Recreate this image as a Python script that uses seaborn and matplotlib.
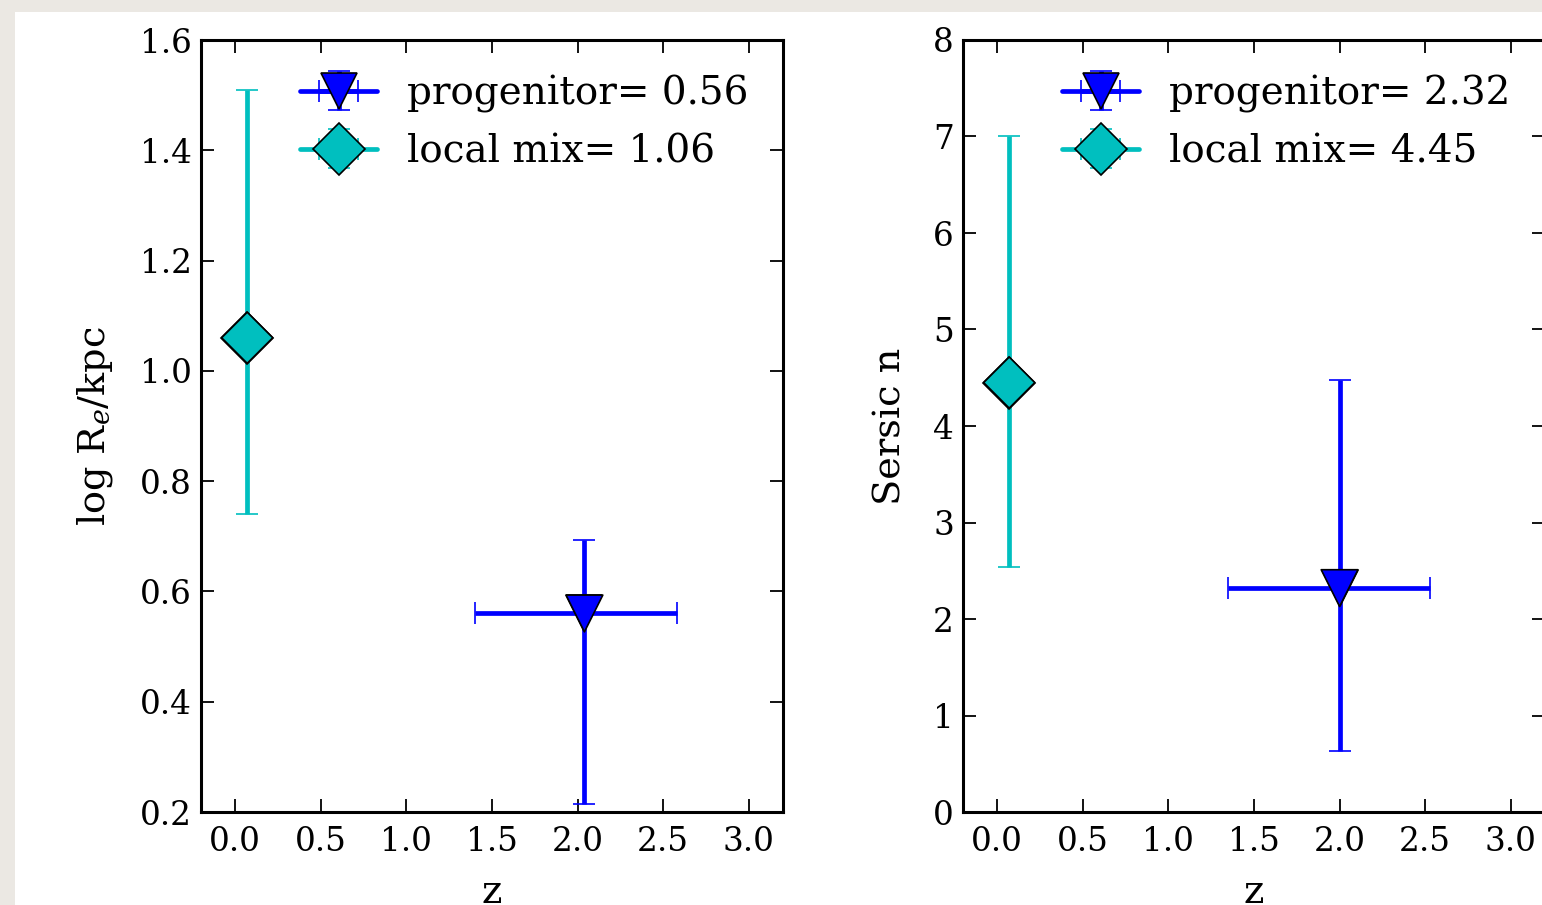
import numpy as np
import pandas as pd
import matplotlib
matplotlib.use("Agg")
import matplotlib.pyplot as plt
import seaborn as sns
from matplotlib.patches import Rectangle

# ---------------- data ----------------
series = ["progenitor", "local mix"]
z_vals = [2.04, 0.07]
z_err_lo = [0.64, 0.0]
z_err_hi = [0.54, 0.0]

re_vals = [0.56, 1.06]
re_err_lo = [0.346, 0.32]
re_err_hi = [0.134, 0.45]

n_vals = [2.32, 4.45]
n_err_lo = [1.69, 1.91]
n_err_hi = [2.16, 2.55]

z_prog_n = [2.00, 0.07]
z_err_lo_n = [0.65, 0.0]
z_err_hi_n = [0.53, 0.0]

re_ticklabels = ["0.2", "0.4", "0.6", "0.8", "1.0", "1.2", "1.4", "1.6"]
n_ticklabels = ["0", "1", "2", "3", "4", "5", "6", "7", "8"]
z_ticklabels = ["0.0", "0.5", "1.0", "1.5", "2.0", "2.5", "3.0"]

colors = ["#0000ff", "#00bfbf"]
markers = ["v", "D"]
msizes = [26.5, 26.0]

# ---------------- style ----------------
sns.set_style("ticks")
plt.rcParams["font.family"] = ["DejaVu Serif"]
plt.rcParams["mathtext.fontset"] = "dejavuserif"
plt.rcParams["text.color"] = "black"
plt.rcParams["axes.labelcolor"] = "black"

W, H = 1542, 905
fig = plt.figure(figsize=(W / 100, H / 100), dpi=100)
fig.patch.set_facecolor("#ebe8e3")
fig.add_artist(Rectangle((15 / W, 0), 1, 1 - 12 / H, transform=fig.transFigure,
                         facecolor="white", edgecolor="none", zorder=0))

ax1 = fig.add_axes([201 / W, (H - 812) / H, 582 / W, 772 / H])
ax2 = fig.add_axes([963 / W, (H - 812) / H, 582 / W, 772 / H])


def panel(ax, xs, xlo, xhi, ys, ylo, yhi, ylim, ytick_labels, ylabel):
    df = pd.DataFrame({"z": xs, "val": ys, "series": series})
    for i, name in enumerate(series):
        ax.errorbar([xs[i]], [ys[i]],
                    xerr=[[xlo[i]], [xhi[i]]], yerr=[[ylo[i]], [yhi[i]]],
                    fmt=markers[i] + "-", color=colors[i], ecolor=colors[i],
                    markerfacecolor=colors[i], markeredgecolor="black",
                    markeredgewidth=1.2, markersize=msizes[i],
                    elinewidth=3.4, capsize=8, capthick=1.4, lw=3.4,
                    label=f"{name}= {ys[i]:.2f}", zorder=3)
    sns.scatterplot(data=df, x="z", y="val", hue="series", style="series",
                    palette=colors, markers=markers, s=[m ** 2 for m in msizes],
                    edgecolor="black", linewidth=1.2, legend=False, ax=ax, zorder=4)
    ax.set_xlim(-0.2, 3.2)
    ax.set_ylim(*ylim)
    ax.set_xticks([float(t) for t in z_ticklabels])
    ax.set_xticklabels(z_ticklabels)
    ax.set_yticks([float(t) for t in ytick_labels])
    ax.set_yticklabels(ytick_labels)
    ax.set_xlabel("z", fontsize=28, labelpad=11.5)
    ax.set_ylabel(ylabel, fontsize=27.5, labelpad=18)
    ax.tick_params(direction="in", top=True, right=True, length=9.5, width=1.3,
                   labelsize=23.5, pad=6.5, colors="black")
    ax.tick_params(axis="x", pad=10)
    for s in ax.spines.values():
        s.set_linewidth(2.2)
        s.set_color("black")
    ax.legend(loc="upper right", frameon=False, fontsize=28, numpoints=1,
              handlelength=2.0, handletextpad=0.75, borderaxespad=0.5,
              borderpad=0.4, labelspacing=0.52)


panel(ax1, z_vals, z_err_lo, z_err_hi, re_vals, re_err_lo, re_err_hi,
      (0.2, 1.6), re_ticklabels, r"log R$_e$/kpc")
panel(ax2, z_prog_n, z_err_lo_n, z_err_hi_n, n_vals, n_err_lo, n_err_hi,
      (0, 8), n_ticklabels, "Sersic n")

fig.savefig("out.png", dpi=100, facecolor=fig.get_facecolor())
